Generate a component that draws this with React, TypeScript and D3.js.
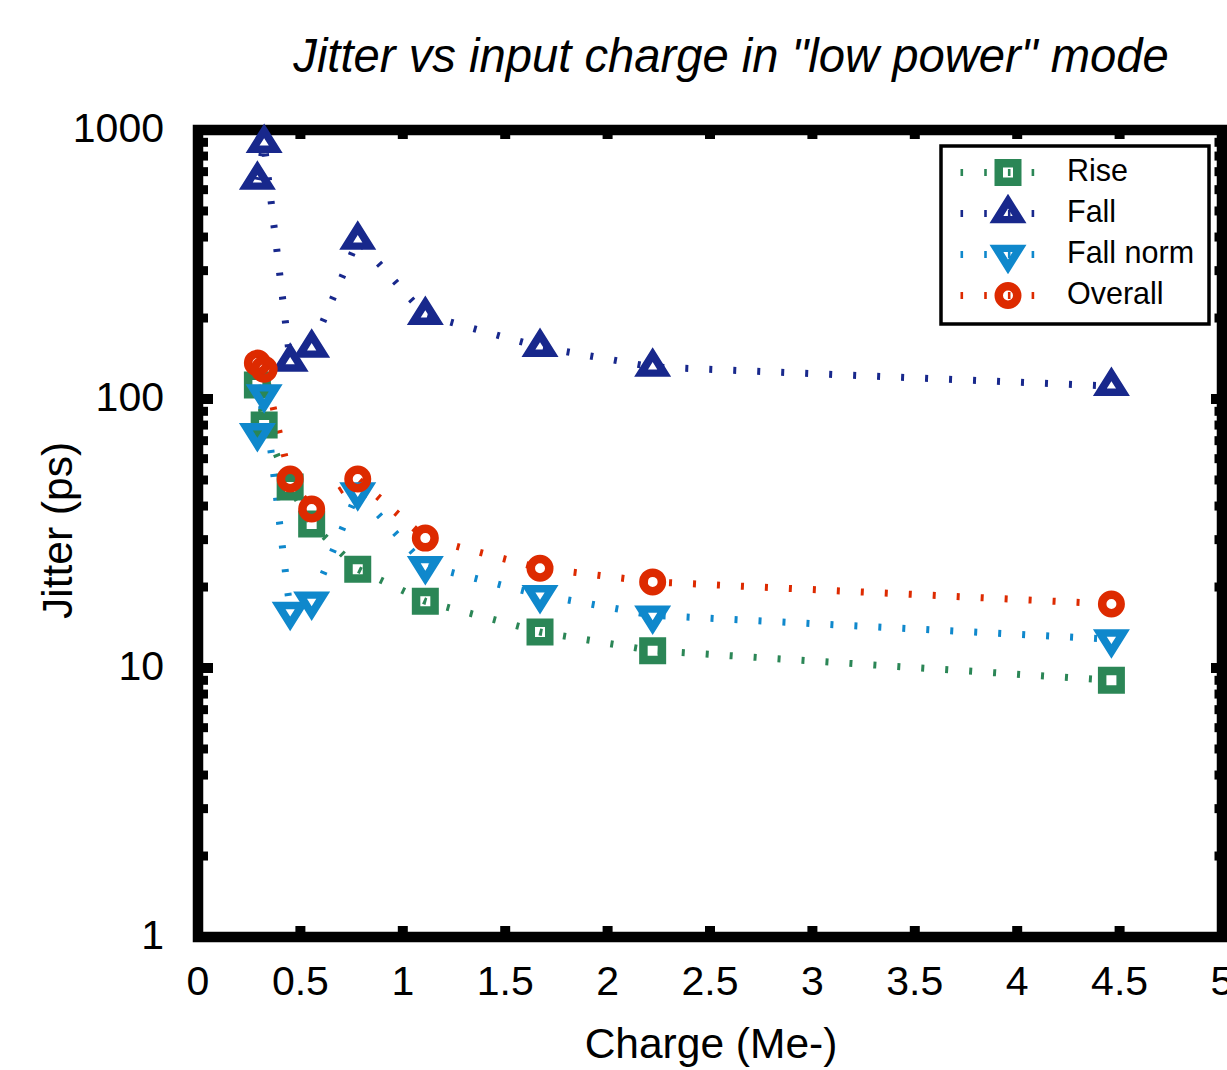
import React from "react";
import * as d3 from "d3";

const charge = [0.29, 0.323, 0.45, 0.555, 0.78, 1.11, 1.67, 2.22, 4.46];
const rise = [112.7, 80, 47.1, 34.3, 23.3, 17.7, 13.6, 11.6, 9.0];
const fall = [652, 894, 137.4, 154.7, 390, 205, 156, 131.5, 111.7];
const fallNorm = [74.8, 104.4, 16.2, 17.7, 45.1, 24.0, 18.7, 15.7, 12.8];
const overall = [136, 129, 50.4, 39, 50.4, 30.4, 23.5, 20.9, 17.3];

const seriesNames = ["Rise", "Fall", "Fall norm", "Overall"];
const seriesColors = ["#2b8656", "#18288c", "#0f88cc", "#dd2a00"];
const seriesShapes = ["square", "up", "down", "circle"];
const seriesValues = [rise, fall, fallNorm, overall];

const xTicks = [0, 0.5, 1, 1.5, 2, 2.5, 3, 3.5, 4, 4.5, 5];
const xTickLabels = ["0", "0.5", "1", "1.5", "2", "2.5", "3", "3.5", "4", "4.5", "5"];
const yTicks = [1, 10, 100, 1000];
const yTickLabels = ["1", "10", "100", "1000"];

const FONT = "'Liberation Sans', Arial, Helvetica, sans-serif";

function markerPath(shape: string, cx: number, cy: number): string {
  const p = d3.path();
  if (shape === "square") {
    const o = 13.5, i = 5;
    p.rect(cx - o, cy - o, 2 * o, 2 * o);
    p.rect(cx - i, cy - i, 2 * i, 2 * i);
  } else if (shape === "circle") {
    p.arc(cx, cy, 13.5, 0, Math.PI * 2);
    p.closePath();
    p.moveTo(cx + 5, cy);
    p.arc(cx, cy, 5, 0, Math.PI * 2);
    p.closePath();
  } else {
    const w = 37, h = 29.5;
    const s = shape === "up" ? 1 : -1;
    const tri = (k: number) => {
      p.moveTo(cx, cy - s * (2 * h / 3) * k);
      p.lineTo(cx + (w / 2) * k, cy + s * (h / 3) * k);
      p.lineTo(cx - (w / 2) * k, cy + s * (h / 3) * k);
      p.closePath();
    };
    tri(1);
    tri(0.25);
  }
  return p.toString();
}

export default function App() {
  const W = 1227, H = 1070;
  const x0 = 198, x1 = 1222, y0 = 130, y1 = 937;
  const x = d3.scaleLinear().domain([0, 5]).range([x0, x1]);
  const y = d3.scaleLog().domain([1, 1000]).range([y1, y0]);

  const minorY: number[] = [];
  for (let dec = 1; dec < 1000; dec *= 10) {
    for (let m = 2; m <= 9; m++) minorY.push(dec * m);
  }

  const line = d3
    .line<number>()
    .x((_, i) => x(charge[i]))
    .y((v) => y(v));

  const dash = "3 21";
  const lineW = 7;

  const legX = 941, legY = 146, legW = 268, legH = 178;
  const rowY = (i: number) => 172.5 + i * 41;

  return (
    <svg
      width={W}
      height={H}
      style={{ position: "absolute", left: 0, top: 0, background: "#fff" }}
      fontFamily={FONT}
    >
      {/* title */}
      <text x={731} y={72} fontSize={47.2} fontStyle="italic" textAnchor="middle" fill="#000">
        Jitter vs input charge in "low power" mode
      </text>

      {/* frame */}
      <rect x={x0} y={y0} width={x1 - x0} height={y1 - y0} fill="none" stroke="#000" strokeWidth={10.5} />

      {/* y ticks */}
      {yTicks.map((t) => (
        <g key={"ym" + t}>
          <line x1={x0} x2={x0 + 15} y1={y(t)} y2={y(t)} stroke="#000" strokeWidth={10} />
          <line x1={x1} x2={x1 - 11} y1={y(t)} y2={y(t)} stroke="#000" strokeWidth={10} />
        </g>
      ))}
      {minorY.map((t) => (
        <g key={"yn" + t}>
          <line x1={x0} x2={x0 + 10} y1={y(t)} y2={y(t)} stroke="#000" strokeWidth={9} />
          <line x1={x1} x2={x1 - 7.5} y1={y(t)} y2={y(t)} stroke="#000" strokeWidth={9} />
        </g>
      ))}
      {/* x ticks */}
      {xTicks.map((t) => (
        <g key={"x" + t}>
          <line x1={x(t)} x2={x(t)} y1={y1} y2={y1 - 11} stroke="#000" strokeWidth={10} />
          <line x1={x(t)} x2={x(t)} y1={y0} y2={y0 + 9} stroke="#000" strokeWidth={10} />
        </g>
      ))}

      {/* tick labels */}
      {yTicks.map((t, i) => (
        <text key={"yl" + t} x={164} y={y(t) + 12} fontSize={41} textAnchor="end" fill="#000">
          {yTickLabels[i]}
        </text>
      ))}
      {xTicks.map((t, i) => (
        <text key={"xl" + t} x={x(t)} y={995} fontSize={41} textAnchor="middle" fill="#000">
          {xTickLabels[i]}
        </text>
      ))}

      {/* axis titles */}
      <text x={(x0 + x1) / 2 + 1} y={1058} fontSize={42.5} textAnchor="middle" fill="#000">
        Charge (Me-)
      </text>
      <text
        transform={`translate(72, ${(y0 + y1) / 2 - 3}) rotate(-90)`}
        fontSize={42.5}
        textAnchor="middle"
        fill="#000"
      >
        Jitter (ps)
      </text>

      {/* lines */}
      {seriesValues.map((vals, si) => (
        <path
          key={"l" + si}
          d={line(vals) || ""}
          fill="none"
          stroke={seriesColors[si]}
          strokeWidth={lineW}
          strokeDasharray={dash}
        />
      ))}

      {/* markers */}
      {seriesValues.map((vals, si) => (
        <g key={"m" + si}>
          {vals.map((v, i) => (
            <path
              key={i}
              d={markerPath(seriesShapes[si], x(charge[i]), y(v))}
              fill={seriesColors[si]}
              fillRule="evenodd"
            />
          ))}
        </g>
      ))}

      {/* legend */}
      <rect x={legX} y={legY} width={legW} height={legH} fill="#fff" stroke="#000" strokeWidth={3.5} />
      {seriesNames.map((name, i) => (
        <g key={"lg" + i}>
          <line
            x1={960.5}
            x2={1036}
            y1={rowY(i)}
            y2={rowY(i)}
            stroke={seriesColors[i]}
            strokeWidth={lineW}
            strokeDasharray="2.6 21.1"
          />
          <path d={markerPath(seriesShapes[i], 1008, rowY(i))} fill={seriesColors[i]} fillRule="evenodd" />
          <text x={1067} y={rowY(i) + 8} fontSize={30.5} fill="#000">
            {name}
          </text>
        </g>
      ))}
    </svg>
  );
}
